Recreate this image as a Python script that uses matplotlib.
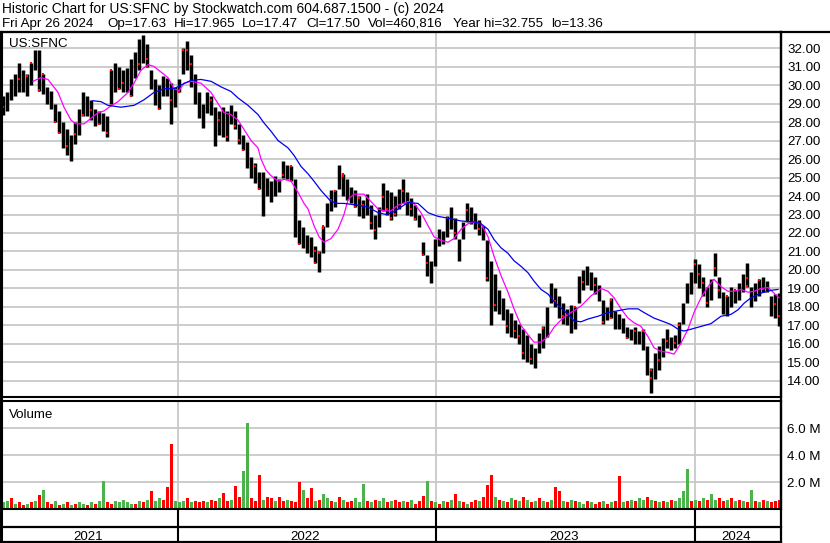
import numpy as np
import matplotlib
matplotlib.use('Agg')
import matplotlib.pyplot as plt
from matplotlib.lines import Line2D

plt.rcParams['font.family'] = ['Liberation Sans', 'DejaVu Sans']

# ---------------- data ----------------
title_line = "Historic Chart for US:SFNC by Stockwatch.com 604.687.1500 - (c) 2024"
quote_parts = ["Fri Apr 26 2024", "Op=17.63", "Hi=17.965", "Lo=17.47", "Cl=17.50",
               "Vol=460,816", "Year hi=32.755", "lo=13.36"]
symbol = "US:SFNC"
volume_title = "Volume"

# price bars (one bar per ~4 trading days), high / low
highs = [29.4, 29.6, 30.3, 30.6, 31.2, 30.8, 30.6, 31.2, 31.9, 31.9, 30.6, 29.9, 29.7,
         29.0, 28.6, 28.0, 27.6, 27.3, 28.0, 28.7, 29.6, 29.4, 29.2, 28.7, 28.6, 28.5,
         28.3, 30.8, 31.2, 31.0, 30.8, 30.9, 31.4, 31.8, 32.5, 32.7, 32.2, 30.8, 30.3,
         30.0, 30.5, 30.4, 30.1, 29.9, 30.3, 32.0, 32.4, 31.6, 30.6, 29.6, 29.0, 29.6,
         29.4, 28.8, 28.6, 28.8, 28.6, 28.9, 28.6, 27.9, 27.3, 26.9, 26.1, 25.8, 25.3,
         25.3, 25.0, 24.8, 25.1, 24.9, 25.9, 25.7, 25.6, 24.9, 22.7, 22.3, 21.9, 21.8,
         21.3, 21.0, 22.4, 23.6, 24.3, 24.3, 25.7, 25.2, 24.9, 24.5, 24.3, 24.0, 23.8,
         24.1, 23.5, 23.0, 23.4, 24.7, 24.3, 24.2, 24.0, 24.4, 24.9, 24.2, 23.9, 23.5,
         23.0, 21.5, 20.8, 20.5, 21.7, 22.2, 22.1, 22.9, 23.4, 22.8, 21.7, 22.6, 23.6,
         23.4, 23.1, 22.7, 22.4, 21.6, 20.5, 19.8, 18.9, 18.5, 17.9, 17.7, 17.3, 17.1,
         16.8, 16.5, 16.0, 15.8, 16.6, 16.95, 18.0, 19.3, 19.0, 18.6, 18.2, 17.9, 18.1,
         18.0, 19.7, 20.0, 20.2, 19.9, 19.6, 19.2, 18.4, 18.0, 18.5, 17.8, 17.6, 17.4,
         16.9, 16.8, 16.9, 16.7, 16.8, 15.9, 14.7, 15.5, 15.9, 16.3, 16.8, 16.4, 16.5,
         17.2, 18.2, 19.3, 19.9, 20.6, 20.3, 19.6, 19.1, 19.5, 20.9, 19.6, 18.8, 18.6,
         19.1, 18.9, 19.3, 19.8, 20.4, 19.1, 19.3, 19.5, 19.6, 19.4, 18.6, 18.7, 18.75]
lows = [28.4, 28.6, 29.2, 29.4, 29.6, 29.6, 29.4, 30.0, 30.8, 29.7, 29.5, 29.0, 28.7,
        28.0, 27.4, 26.6, 26.2, 25.9, 26.8, 27.3, 28.3, 28.3, 28.1, 27.8, 27.9, 27.5,
        27.2, 29.0, 29.6, 29.8, 29.6, 29.6, 29.4, 30.4, 30.8, 31.2, 31.0, 29.8, 28.9,
        28.7, 29.4, 29.4, 27.9, 28.8, 29.6, 30.6, 30.8, 29.9, 29.0, 28.2, 27.7, 28.5,
        28.4, 26.7, 27.3, 27.2, 27.0, 27.9, 27.6, 26.8, 26.5, 25.5, 25.0, 24.7, 24.4,
        22.9, 24.0, 23.7, 24.0, 24.2, 25.0, 24.9, 24.8, 21.8, 21.4, 21.2, 20.9, 20.7,
        20.4, 19.9, 20.9, 22.3, 23.2, 23.4, 24.4, 24.0, 23.8, 23.6, 23.4, 22.9, 22.8,
        23.0, 22.2, 21.7, 22.3, 23.2, 23.0, 22.7, 22.9, 23.3, 23.6, 23.0, 22.9, 22.7,
        22.3, 20.8, 19.7, 19.3, 20.2, 21.3, 21.4, 21.8, 22.2, 21.7, 20.5, 21.7, 22.6,
        22.5, 22.2, 21.9, 21.6, 19.4, 17.0, 17.8, 17.6, 17.3, 16.6, 16.4, 16.3, 16.0,
        15.2, 15.0, 14.9, 14.7, 15.5, 15.8, 16.4, 18.2, 18.0, 17.4, 17.1, 17.0, 16.6,
        16.8, 18.2, 18.9, 19.2, 18.9, 18.7, 18.3, 17.1, 17.3, 17.4, 16.8, 16.8, 16.6,
        16.3, 16.2, 16.0, 16.0, 15.7, 14.3, 13.36, 14.1, 14.6, 15.3, 15.8, 15.7, 15.8,
        16.0, 17.1, 18.2, 18.7, 19.3, 19.0, 18.6, 18.0, 18.4, 19.7, 18.5, 17.6, 17.5,
        18.0, 18.2, 18.4, 18.8, 19.1, 18.0, 18.3, 18.6, 18.8, 18.8, 17.5, 17.4, 16.95]

# red close marks seen on the bars: (trading-day position, price)
red_mark_x = [3, 18, 24, 31, 37, 39, 43, 53, 60, 65, 73, 81, 88, 98, 105, 110, 117, 122,
              130, 137, 146, 147, 157, 171, 178, 182, 188, 190, 211, 216, 225, 233, 239,
              242, 253, 259, 280, 290, 292, 298, 313, 316, 318, 322, 323, 330, 335, 341,
              342, 353, 358, 363, 372, 373, 382, 386, 390, 395, 402, 409, 415, 423, 428,
              447, 455, 468, 477, 485, 493, 504, 512, 517, 523, 532, 543, 553, 562, 567,
              573, 582, 594, 602, 609, 612, 628, 635, 640, 650, 652, 657, 666, 673, 678,
              693, 697, 702, 707, 714, 718, 727, 734, 745, 747, 758, 763, 775, 779]
red_mark_y = [28.81, 30.32, 30.47, 31.69, 29.75, 28.34, 30.65, 27.91, 26.23, 26.68, 27.37,
              28.40, 28.67, 27.46, 27.41, 31.14, 29.57, 30.11, 29.12, 31.14, 31.42, 29.80,
              28.67, 29.21, 29.51, 31.91, 31.91, 31.15, 29.21, 28.13, 27.17, 27.77, 27.05,
              25.87, 25.64, 24.29, 25.12, 25.69, 22.77, 21.29, 21.02, 20.08, 20.93, 22.28,
              22.95, 23.80, 24.25, 25.60, 25.06, 22.82, 23.89, 23.53, 22.55, 22.15, 23.92,
              23.32, 22.83, 23.01, 24.28, 23.29, 22.74, 20.21, 20.39, 22.83, 22.02, 23.23,
              22.20, 19.57, 18.13, 16.95, 16.68, 16.41, 15.50, 15.18, 16.86, 18.31, 17.50,
              17.58, 18.04, 19.34, 19.21, 17.17, 18.40, 17.10, 16.23, 16.68, 16.68, 14.15,
              14.57, 15.15, 16.14, 16.05, 17.04, 20.30, 19.76, 19.30, 18.22, 20.12, 18.94,
              18.58, 19.12, 19.57, 19.12, 19.48, 18.98, 18.18, 17.49]

# volume per bar (millions) and direction (g = up, r = down)
volumes = [0.5, 0.6, 0.8, 0.4, 0.5, 0.3, 0.4, 0.5, 0.6, 1.05,
           1.4, 0.5, 0.4, 0.6, 0.3, 0.4, 0.5, 0.3, 0.4, 0.5,
           0.4, 0.3, 0.5, 0.4, 0.6, 2.1, 0.5, 0.4, 0.6, 0.5,
           0.7, 0.5, 0.4, 0.4, 0.6, 0.5, 0.7, 1.35, 0.6, 0.8,
           0.7, 1.6, 4.8, 0.6, 0.5, 0.6, 0.8, 0.5, 0.6, 0.5,
           0.6, 0.5, 0.7, 0.6, 0.8, 1.2, 0.6, 0.7, 1.7, 0.9,
           2.8, 6.4, 0.8, 0.6, 2.5, 0.7, 0.9, 0.8, 0.6, 0.9,
           0.6, 0.7, 0.6, 0.5, 2.0, 1.4, 0.8, 1.55, 0.6, 0.7,
           1.1, 0.8, 0.6, 0.5, 0.9, 0.7, 0.5, 0.6, 0.8, 0.5,
           1.85, 0.6, 0.5, 0.7, 0.6, 0.8, 0.5, 0.6, 0.7, 0.5,
           0.6, 0.5, 0.7, 0.4, 0.6, 1.0, 2.1, 0.6, 0.5, 0.4,
           0.6, 0.5, 0.7, 1.1, 0.6, 0.5, 0.4, 0.5, 0.7, 0.6,
           0.9, 1.8, 2.5, 0.9, 0.7, 0.6, 0.5, 0.8, 0.7, 0.6,
           0.9, 0.7, 0.5, 0.6, 0.8, 0.6, 0.5, 0.7, 1.65, 1.35,
           0.6, 0.5, 0.7, 0.6, 0.5, 0.4, 0.6, 0.5, 0.4, 0.5,
           0.6, 0.4, 0.5, 0.6, 2.45, 0.5, 0.6, 0.7, 0.6, 0.8,
           0.7, 0.9, 0.7, 0.6, 0.5, 0.6, 0.5, 0.7, 0.6, 0.8,
           1.35, 3.0, 0.6, 0.7, 0.6, 0.8, 0.7, 1.1, 0.7, 0.8,
           0.6, 0.7, 0.8, 0.6, 0.7, 0.6, 0.5, 1.4, 0.6, 0.5,
           0.7, 0.6, 0.5, 0.6, 0.7]
vol_dir = ("ggrgrrgrgr" "grrgrgrgrg" "grgrggrrgg" "gggrgrgrgg" "rrrgggrgrr"
           "rgrrgrrgrr" "ggrrrgrrgr" "rgrrrgrrgr" "ggrgrgrrgg" "grgrggrgrr"
           "grgrr" "rgrgrgrg" "rgrgrrgr" "rrgrgrgrgr" "grgrgrg" "rrgrgrggrgrrgrgr"
           "r" "grgrggrgrgrgrgg" "gg" "rgrgr" "g" "grrgrgrgr" "g" "rgrgrrr")

# moving averages: (trading-day position, value)
ma_fast_x = [32, 40, 47, 57, 63, 70, 75, 83, 90, 97, 103, 108, 117, 127, 133, 140, 147,
             153, 160, 167, 173, 178, 183, 190, 200, 210, 217, 223, 230, 237, 243, 250,
             257, 260, 265, 270, 277, 283, 290, 297, 303, 307, 313, 318, 323, 330, 337,
             343, 347, 353, 363, 370, 377, 383, 390, 397, 407, 413, 420, 427, 433, 440,
             447, 453, 460, 467, 473, 480, 487, 493, 500, 507, 513, 520, 527, 533, 540,
             547, 553, 560, 567, 573, 580, 590, 600, 607, 613, 620, 627, 633, 640, 647,
             653, 660, 667, 673, 680, 687, 693, 700, 707, 713, 720, 727, 733, 740, 747,
             753, 760, 767, 773, 778]
ma_fast_y = [30.2, 30.4, 30.3, 29.6, 28.8, 28.1, 27.9, 27.9, 28.2, 28.5, 28.6, 28.8, 29.1,
             29.6, 30.1, 30.8, 31.1, 31.0, 30.7, 30.4, 29.8, 29.7, 30.1, 30.2, 30.1, 29.6,
             29.0, 28.5, 28.4, 28.1, 27.6, 27.0, 26.6, 26.0, 25.4, 25.1, 24.8, 24.9, 24.8,
             24.2, 23.6, 23.3, 22.4, 21.8, 21.5, 21.7, 22.2, 23.0, 23.8, 24.1, 24.1, 23.7,
             23.3, 23.2, 23.2, 23.5, 23.7, 23.6, 23.1, 22.4, 21.8, 21.6, 21.5, 21.7, 22.2,
             22.5, 22.6, 22.5, 21.8, 20.75, 19.7, 18.8, 17.9, 17.0, 16.5, 16.1, 16.1, 16.4,
             16.9, 17.3, 17.6, 17.8, 18.05, 18.6, 19.0, 18.85, 18.5, 17.9, 17.4, 17.15,
             16.95, 16.4, 15.8, 15.6, 15.55, 15.45, 16.05, 16.8, 17.7, 18.5, 19.1, 19.5,
             19.1, 18.85, 18.85, 18.95, 18.8, 18.85, 19.0, 19.05, 18.75, 18.5]
ma_slow_x = [92, 100, 107, 120, 133, 143, 153, 163, 173, 180, 190, 200, 210, 220, 230, 237,
             247, 257, 263, 270, 277, 287, 293, 300, 307, 313, 320, 330, 337, 343, 357, 367,
             377, 385, 393, 407, 417, 427, 437, 447, 460, 473, 480, 487, 493, 500, 507, 513,
             520, 527, 533, 540, 547, 553, 560, 567, 573, 580, 587, 597, 607, 617, 627, 637,
             643, 653, 663, 670, 677, 683, 690, 700, 710, 720, 730, 737, 743, 750, 760, 770,
             777]
ma_slow_y = [29.15, 29.1, 28.9, 28.8, 28.9, 29.2, 29.6, 29.8, 29.8, 30.0, 30.25, 30.3, 30.2,
             29.9, 29.65, 29.3, 28.9, 28.4, 27.95, 27.5, 27.0, 26.6, 26.2, 25.6, 25.2, 24.8,
             24.3, 23.7, 23.6, 23.6, 23.5, 23.4, 23.1, 23.0, 23.15, 23.65, 23.6, 23.1, 22.9,
             22.8, 22.65, 22.6, 22.5, 22.2, 21.65, 21.2, 20.9, 20.5, 20.2, 19.85, 19.4, 18.95,
             18.7, 18.3, 17.95, 17.6, 17.25, 17.2, 17.35, 17.5, 17.7, 17.8, 17.9, 17.9, 17.7,
             17.4, 17.2, 17.05, 16.8, 16.7, 16.8, 16.95, 17.1, 17.5, 17.6, 17.85, 18.2, 18.5,
             18.75, 18.9, 18.95]

year_labels = ["2021", "2022", "2023", "2024"]
year_start_day = [177, 435, 694]
price_ticks = list(range(14, 33))
vol_ticks = [2, 4, 6]

# ---------------- figure ----------------
W, H = 830, 543
fig = plt.figure(figsize=(W / 100, H / 100), dpi=100)
FS = 9.6

def fx(px):
    return px / W

def fy(py):
    return 1 - py / H

X0, X1 = 1, 781            # plot area horizontal extent (px)
PT, PB = 32, 397           # price panel
VT, VB = 401, 509          # volume panel
n_days = X1 - X0

ax_p = fig.add_axes([fx(X0), fy(PB), fx(X1 - X0), (PB - PT) / H])
ax_v = fig.add_axes([fx(X0), fy(VB), fx(X1 - X0), (VB - VT) / H])

grid_c = '#c8c8c8'
days = 2 + 4 * np.arange(len(highs))
bounds = [0] + year_start_day + [n_days]
hi_arr = np.array(highs)
lo_arr = np.array(lows)

# price panel
ax_p.set_xlim(0, n_days)
ax_p.set_ylim(13.135, 32.865)
for t in price_ticks:
    ax_p.axhline(t, color=grid_c, lw=1.3, zorder=0)
for d in year_start_day:
    ax_p.axvline(d, color=grid_c, lw=1.3, zorder=0)
ax_p.vlines(days, lo_arr, hi_arr, color='black', lw=2.5, zorder=2)

# red marks sit on the bar they belong to
rm_x = np.array(red_mark_x, dtype=float)
rm_idx = np.clip(np.round((rm_x - days[0]) / 4).astype(int), 0, len(days) - 1)
rm_y = np.clip(np.array(red_mark_y), lo_arr[rm_idx], hi_arr[rm_idx])
ax_p.plot(days[rm_idx], rm_y, ls='none', marker='s', ms=1.6, mew=0,
          color='#ff0000', zorder=3)

ax_p.plot(ma_fast_x, ma_fast_y, color='#ff00ff', lw=0.9, zorder=4)
ax_p.plot(ma_slow_x, ma_slow_y, color='#0000ee', lw=0.9, zorder=4)
ax_p.yaxis.tick_right()
ax_p.set_yticks(price_ticks)
ax_p.set_yticklabels([f"{t:.2f}" for t in price_ticks])
ax_p.set_xticks([])
ax_p.tick_params(axis='y', length=0, pad=4.6, labelsize=FS, colors='black')

# volume panel
ax_v.set_xlim(0, n_days)
ax_v.set_ylim(0, 8.03)
for t in vol_ticks:
    ax_v.axhline(t, color=grid_c, lw=1.3, zorder=0)
for d in year_start_day:
    ax_v.axvline(d, color=grid_c, lw=1.3, zorder=0)
vcols = ['#ff0000' if c == 'r' else '#4cb24c' for c in vol_dir]
ax_v.bar(days, volumes, width=3.0, color=vcols, linewidth=0, zorder=2)
ax_v.yaxis.tick_right()
ax_v.set_yticks(vol_ticks)
ax_v.set_yticklabels([f"{t:.1f} M" for t in vol_ticks])
ax_v.set_xticks([])
ax_v.tick_params(axis='y', length=0, pad=4.2, labelsize=FS, colors='black')

for ax in (ax_p, ax_v):
    for s in ax.spines.values():
        s.set_color('black')
    ax.spines['left'].set_linewidth(2.2)
    ax.spines['right'].set_linewidth(1.6)
    ax.spines['top'].set_linewidth(1.5)
    ax.spines['bottom'].set_linewidth(1.5)

# panel captions
fig.text(fx(9), fy(46.5), symbol, ha='left', va='baseline', fontsize=FS)
fig.text(fx(9), fy(417.5), volume_title, ha='left', va='baseline', fontsize=FS)

# frame lines in figure coordinates
def hline(py, x0, x1, lw=1.5):
    fig.add_artist(Line2D([fx(x0), fx(x1)], [fy(py), fy(py)], color='black', lw=lw))

def vline(px, y0, y1, lw=1.5):
    fig.add_artist(Line2D([fx(px), fx(px)], [fy(y0), fy(y1)], color='black', lw=lw))

hline(31.5, 0, W, lw=1.6)
hline(527, 0, X1, lw=1.6)
hline(541.5, 0, X1, lw=1.6)
vline(0.8, PT, H, lw=2.2)
vline(X1, PT, H, lw=1.6)
for d in year_start_day:
    vline(X0 + d, VB, 541.5, lw=1.5)

# year labels centred between boundaries
for lab, a, b in zip(year_labels, bounds[:-1], bounds[1:]):
    fig.text(fx(X0 + (a + b) / 2 - 1.5), fy(539.5), lab, ha='center', va='baseline',
             fontsize=FS)

# header
fig.text(fx(2), fy(12.8), title_line, ha='left', va='baseline', fontsize=9.95)
quote_x = [2, 107, 174, 242, 306, 368, 453, 551]
for txt, px in zip(quote_parts, quote_x):
    fig.text(fx(px), fy(27), txt, ha='left', va='baseline', fontsize=FS)

fig.savefig('out.png', dpi=100)
